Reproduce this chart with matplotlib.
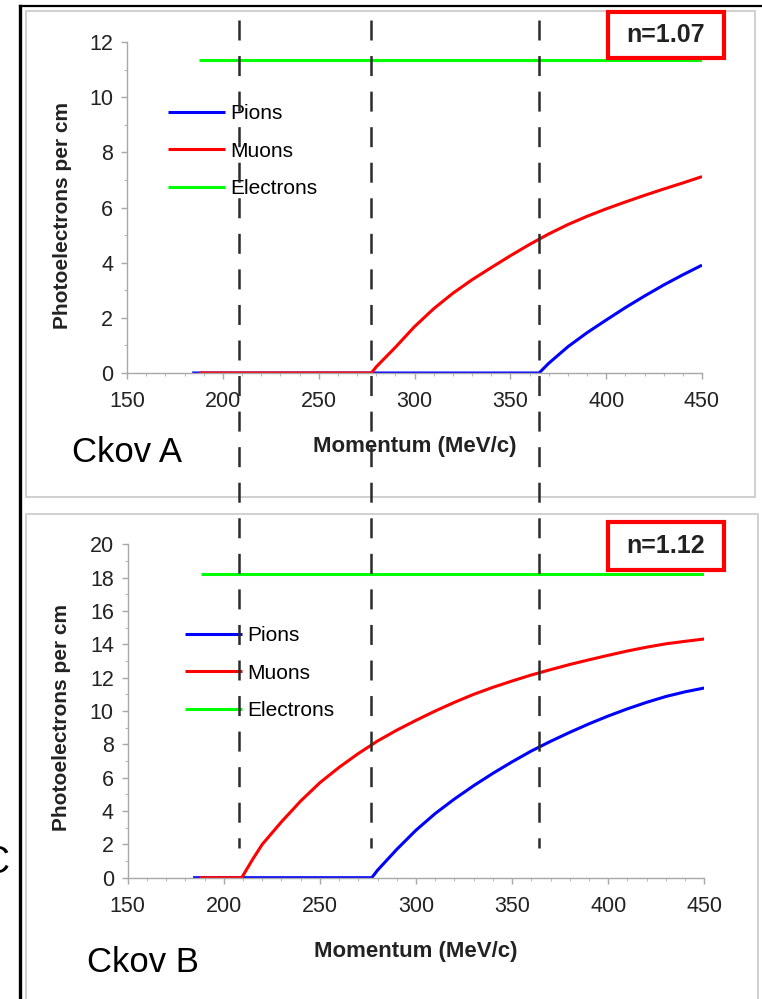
import matplotlib
matplotlib.use("Agg")
import matplotlib.pyplot as plt
from matplotlib.patches import Rectangle
from matplotlib.lines import Line2D
from matplotlib.transforms import blended_transform_factory
from matplotlib.ticker import MultipleLocator

plt.rcParams['font.family'] = ['Liberation Sans', 'DejaVu Sans']
plt.rcParams['lines.scale_dashes'] = False

# ---------------- data ----------------
# Ckov A, n = 1.07
a_pion_x = [184, 365, 370, 380, 390, 400, 410, 420, 430, 440, 450]
a_pion_y = [0, 0, 0.35, 0.95, 1.46, 1.92, 2.37, 2.79, 3.19, 3.56, 3.91]
a_muon_x = [187.7, 277.5, 280, 290, 300, 310, 320, 330, 340, 350, 360, 370,
            380, 390, 400, 410, 420, 430, 440, 450]
a_muon_y = [0, 0, 0.22, 0.93, 1.68, 2.33, 2.89, 3.38, 3.82, 4.25, 4.66, 5.04,
            5.38, 5.68, 5.95, 6.20, 6.44, 6.67, 6.89, 7.12]
a_elec_x = [187.6, 450]
a_elec_y = [11.34, 11.34]

# Ckov B, n = 1.12
b_pion_x = [184, 277, 280, 290, 300, 310, 320, 330, 340, 350, 360, 370, 380,
            390, 400, 410, 420, 430, 440, 450]
b_pion_y = [0, 0, 0.45, 1.70, 2.85, 3.85, 4.72, 5.52, 6.26, 6.95, 7.60, 8.18,
            8.72, 9.23, 9.70, 10.13, 10.52, 10.87, 11.15, 11.38]
b_muon_x = [187.6, 209.3, 215, 220, 230, 240, 250, 260, 270, 280, 290, 300,
            310, 320, 330, 340, 350, 360, 370, 380, 390, 400, 410, 420, 430,
            440, 450]
b_muon_y = [0, 0, 1.10, 2.00, 3.35, 4.60, 5.70, 6.62, 7.45, 8.20, 8.85, 9.44,
            10.00, 10.52, 11.00, 11.42, 11.80, 12.16, 12.48, 12.79, 13.07,
            13.34, 13.60, 13.83, 14.03, 14.18, 14.32]
b_elec_x = [188, 450]
b_elec_y = [18.22, 18.22]

thresholds = [208.3, 277.3, 364.7]
labels = ["Pions", "Muons", "Electrons"]
colors = ["#0000ff", "#ff0000", "#00ff00"]
panel_names = ["Ckov A", "Ckov B"]
index_labels = ["n=1.07", "n=1.12"]
y_max = [12, 20]
y_major = [2, 2]

W, H = 762, 999
fig = plt.figure(figsize=(W / 100, H / 100), dpi=100)


def fx(px):
    return px / W


def fy(py):
    return 1 - py / H


# outer black frame (left + top)
fig.add_artist(Line2D([fx(20), fx(20)], [fy(6), fy(999)], color='black', lw=2.4,
                      transform=fig.transFigure))
fig.add_artist(Line2D([fx(20), fx(762)], [fy(6), fy(6)], color='black', lw=1.6,
                      transform=fig.transFigure))
# grey panel boxes
fig.add_artist(Rectangle((fx(26), fy(497)), fx(755) - fx(26), fy(11) - fy(497),
                         fill=False, ec='#d0d0d0', lw=1.4, transform=fig.transFigure))
fig.add_artist(Rectangle((fx(26), fy(1005)), fx(758) - fx(26), fy(514) - fy(1005),
                         fill=False, ec='#d0d0d0', lw=1.4, transform=fig.transFigure))

ax_pos = [
    (fx(127), fy(373), fx(702) - fx(127), fy(42) - fy(373)),
    (fx(127.7), fy(877.7), fx(704.3) - fx(127.7), fy(544.3) - fy(877.7)),
]
series = [
    [(a_pion_x, a_pion_y), (a_muon_x, a_muon_y), (a_elec_x, a_elec_y)],
    [(b_pion_x, b_pion_y), (b_muon_x, b_muon_y), (b_elec_x, b_elec_y)],
]
legend_anchor = [(168, 104), (185, 626)]
xlabel_y = [-0.222, -0.222]
ylabel_xy = [(-0.113, 0.477), (-0.114, 0.4805)]
name_pos = [(72, 462), (87, 972)]
box_pos = [(608, 12, 724, 58), (608, 522, 724, 570)]

axes = []
for i in range(2):
    ax = fig.add_axes(ax_pos[i])
    ax.set_facecolor('none')
    for (xs, ys), lab, c in zip(series[i], labels, colors):
        ax.plot(xs, ys, color=c, lw=2.2, label=lab, solid_capstyle='butt',
                solid_joinstyle='round')
    ax.set_xlim(150, 450)
    ax.set_ylim(0, y_max[i])
    ax.xaxis.set_major_locator(MultipleLocator(50))
    ax.xaxis.set_minor_locator(MultipleLocator(10))
    ax.yaxis.set_major_locator(MultipleLocator(y_major[i]))
    ax.yaxis.set_minor_locator(MultipleLocator(1))
    for s in ['top', 'right']:
        ax.spines[s].set_visible(False)
    for s in ['left', 'bottom']:
        ax.spines[s].set_color('#a8a8a8')
        ax.spines[s].set_linewidth(1.0)
    ax.tick_params(which='major', length=4, width=1, color='#a8a8a8',
                   labelsize=15.5, labelcolor='#222222')
    ax.tick_params(which='minor', length=2.5, width=0.8, color='#b8b8b8')
    ax.tick_params(axis='y', which='major', pad=6)
    ax.tick_params(axis='x', which='major', pad=9)

    ax.set_xlabel("Momentum (MeV/c)", fontsize=16, fontweight='bold',
                  color='#222222')
    ax.xaxis.label.set_va('center')
    ax.xaxis.set_label_coords(0.5, xlabel_y[i])
    ax.set_ylabel("Photoelectrons per cm", fontsize=15, fontweight='bold',
                  color='#222222')
    ax.yaxis.label.set_va('center')
    ax.yaxis.set_label_coords(*ylabel_xy[i])

    lx, ly = legend_anchor[i]
    ax.legend(loc='upper left', bbox_to_anchor=(fx(lx), fy(ly)),
              bbox_transform=fig.transFigure, frameon=False, fontsize=15,
              handlelength=2.75, handletextpad=0.25, labelspacing=0.9,
              borderpad=0, borderaxespad=0)

    nx, ny = name_pos[i]
    fig.text(fx(nx), fy(ny), panel_names[i], fontsize=25, ha='left',
             va='baseline', color='black')

    x0, y0, x1, y1 = box_pos[i]
    fig.add_artist(Rectangle((fx(x0), fy(y1)), fx(x1) - fx(x0), fy(y0) - fy(y1),
                             fill=False, ec='#ff0000', lw=3,
                             transform=fig.transFigure, zorder=5))
    fig.text(fx((x0 + x1) / 2), fy((y0 + y1) / 2), index_labels[i],
             fontsize=18, fontweight='bold', ha='center', va='center',
             color='#222222', zorder=6)
    axes.append(ax)

# dashed threshold lines spanning both panels
trans = blended_transform_factory(axes[0].transData, fig.transFigure)
for xv in thresholds:
    fig.add_artist(Line2D([xv, xv], [fy(20), fy(848)], transform=trans,
                          color='#2b2b2b', lw=1.8, linestyle=(0, (14.4, 11.2)),
                          zorder=4))

# partial letter at left edge (cut off in the original too)
fig.text(fx(9), fy(863), "C", fontsize=27, ha='right', va='center',
         color='black')

fig.savefig("out.png", dpi=100)
